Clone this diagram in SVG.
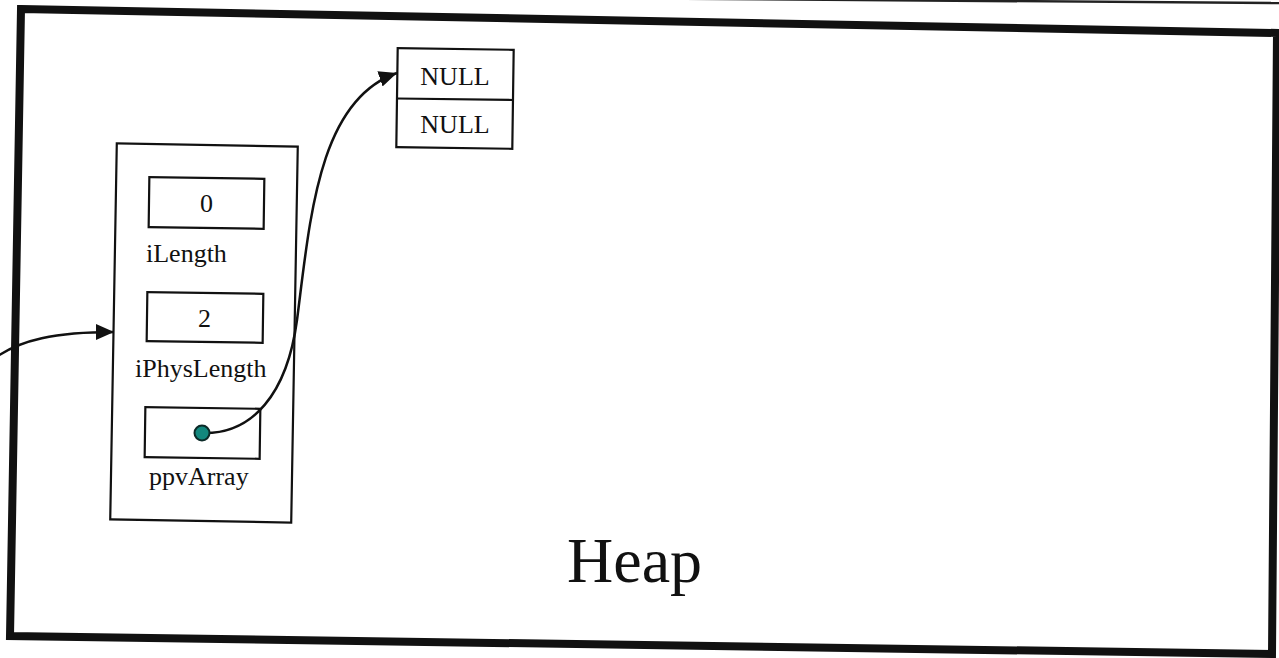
<svg xmlns="http://www.w3.org/2000/svg" width="1279" height="658" viewBox="0 0 1279 658">
<style>
.box{fill:#fff;stroke:#111;stroke-width:2.2}
.lbl{font-family:"Liberation Serif","Times New Roman",serif;font-size:26px;fill:#111}
.val{font-family:"Liberation Serif","Times New Roman",serif;font-size:26px;fill:#111;text-anchor:middle}
.wire{fill:none;stroke:#111;stroke-width:2.5}
</style>
<defs>
<marker id="ah" markerUnits="userSpaceOnUse" markerWidth="22" markerHeight="18" refX="18" refY="8" orient="auto">
<path d="M0,0 L18,8 L0,16 Z" fill="#111"/>
</marker>
</defs>
<rect width="1279" height="658" fill="#fff"/>
<line x1="650" y1="-1.5" x2="1279" y2="3" stroke="#222" stroke-width="2.5"/>
<g id="heap">
<polygon points="21,9 1277,33 1272,654 10,636" fill="none" stroke="#111" stroke-width="8" stroke-linejoin="miter"/>
<text x="567" y="582" style="font-family:'Liberation Serif','Times New Roman',serif;font-size:64px;fill:#111">Heap</text>
</g>
<g id="struct">
<rect class="box" x="113.5" y="145" width="181" height="376" transform="rotate(1 204 333)"/>
<rect class="box" x="149" y="178" width="115" height="50" transform="rotate(0.8 206.5 203)"/>
<text class="val" x="206.5" y="212">0</text>
<text class="lbl" x="146" y="262">iLength</text>
<rect class="box" x="147" y="293" width="116" height="49" transform="rotate(0.8 205 317.5)"/>
<text class="val" x="204.5" y="327">2</text>
<text class="lbl" x="135" y="377">iPhysLength</text>
<rect class="box" x="145" y="408" width="115" height="50" transform="rotate(0.8 202.5 433)"/>
<text class="lbl" x="149" y="485">ppvArray</text>
</g>
<g id="array">
<rect class="box" x="397" y="49" width="116" height="99" transform="rotate(0.8 455 98.5)"/>
<line x1="397" y1="98.5" x2="513" y2="100" stroke="#111" stroke-width="2.2"/>
<text class="val" x="455" y="85">NULL</text>
<text class="val" x="455" y="133">NULL</text>
</g>
<g id="connectors">
<path class="wire" d="M-5,358 C20,340 55,332 114,332" marker-end="url(#ah)"/>
<path class="wire" d="M205,433 C252,433 287,395 297,320 C310,220 318,100 397,73" marker-end="url(#ah)"/>
</g>
<circle cx="202" cy="433" r="7.5" fill="#12877d" stroke="#0c2a28" stroke-width="2"/>
</svg>
